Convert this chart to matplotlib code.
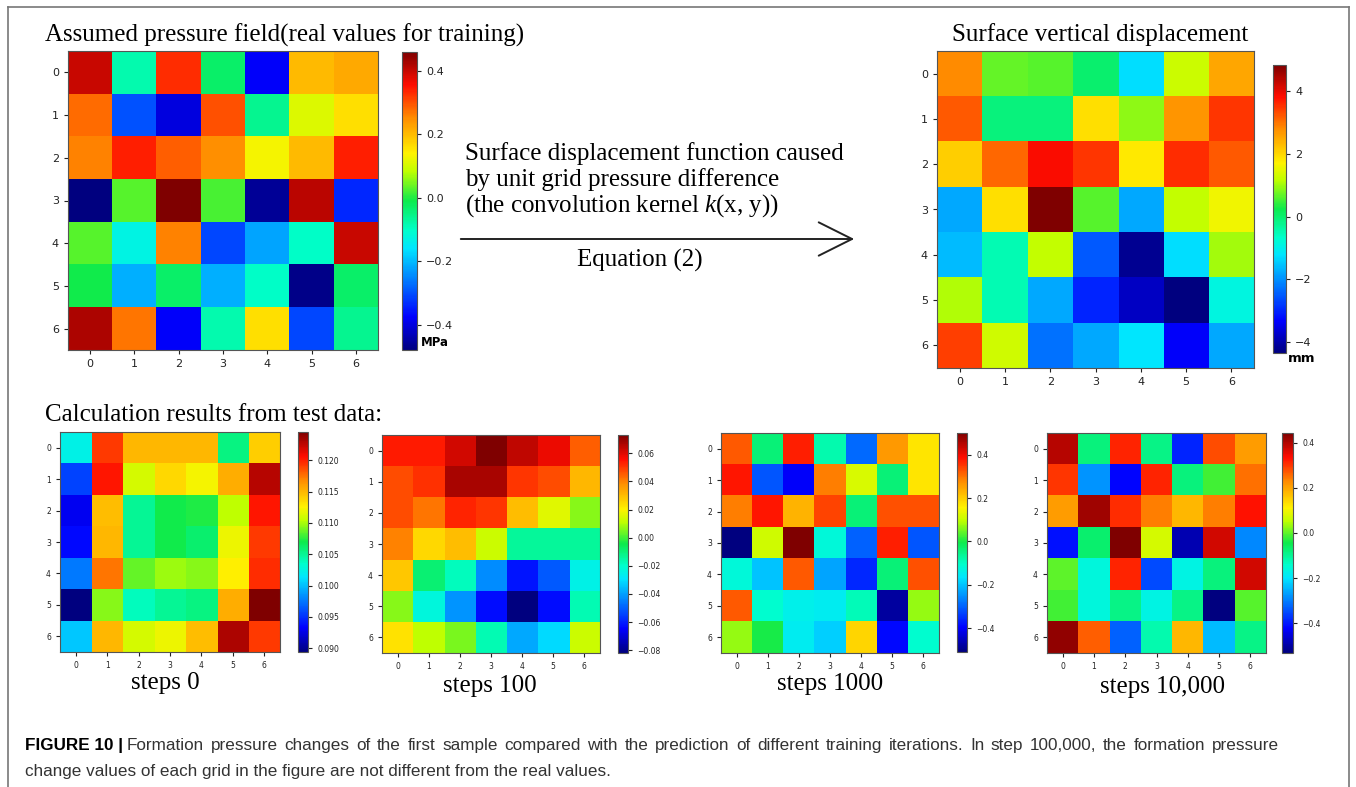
import numpy as np
import matplotlib
matplotlib.use("Agg")
import matplotlib.pyplot as plt
from matplotlib.colors import LinearSegmentedColormap
from matplotlib.lines import Line2D
from matplotlib.patches import FancyArrowPatch

# ---------------------------------------------------
# DATA (7x7 grids)
# ---------------------------------------------------
pressure_real = [
    [0.40, -0.08, 0.33, -0.03, -0.38, 0.20, 0.22],
    [0.28, -0.30, -0.40, 0.30, -0.06, 0.11, 0.16],
    [0.26, 0.34, 0.29, 0.25, 0.13, 0.20, 0.34],
    [-0.48, 0.03, 0.46, 0.02, -0.46, 0.41, -0.34],
    [0.03, -0.13, 0.26, -0.31, -0.22, -0.10, 0.40],
    [-0.01, -0.21, -0.03, -0.21, -0.10, -0.47, -0.03],
    [0.42, 0.27, -0.38, -0.08, 0.16, -0.31, -0.06],
]

displacement = [
    [2.8, 0.7, 0.6, 0.0, -1.3, 1.25, 2.5],
    [3.2, -0.1, -0.1, 1.9, 0.9, 2.7, 3.5],
    [2.1, 3.1, 3.85, 3.5, 1.8, 3.55, 3.2],
    [-1.8, 1.9, 4.83, 0.6, -1.8, 1.2, 1.6],
    [-1.6, -0.5, 1.2, -2.5, -4.2, -1.3, 1.0],
    [1.1, -0.5, -1.8, -3.0, -3.8, -4.35, -0.9],
    [3.4, 1.3, -2.3, -1.8, -1.2, -3.35, -1.8],
]

steps_0 = [
    [0.1024, 0.1192, 0.1150, 0.1150, 0.1150, 0.1055, 0.1140],
    [0.0957, 0.1203, 0.1112, 0.1136, 0.1122, 0.1154, 0.1228],
    [0.0929, 0.1147, 0.1050, 0.1070, 0.1073, 0.1105, 0.1203],
    [0.0936, 0.1150, 0.1050, 0.1070, 0.1060, 0.1119, 0.1192],
    [0.0975, 0.1175, 0.1087, 0.1098, 0.1094, 0.1126, 0.1196],
    [0.0894, 0.1094, 0.1038, 0.1050, 0.1055, 0.1154, 0.1245],
    [0.1003, 0.1150, 0.1112, 0.1119, 0.1147, 0.1230, 0.1192],
]

steps_100 = [
    [0.054, 0.054, 0.062, 0.073, 0.064, 0.058, 0.045],
    [0.047, 0.051, 0.067, 0.067, 0.050, 0.047, 0.031],
    [0.047, 0.042, 0.053, 0.050, 0.030, 0.016, 0.006],
    [0.040, 0.025, 0.030, 0.013, -0.014, -0.014, -0.014],
    [0.028, -0.009, -0.018, -0.043, -0.062, -0.051, -0.025],
    [0.006, -0.023, -0.042, -0.063, -0.082, -0.063, -0.017],
    [0.023, 0.011, 0.005, -0.017, -0.039, -0.031, 0.013],
]

steps_1000 = [
    [0.32, -0.04, 0.37, -0.08, -0.29, 0.26, 0.17],
    [0.38, -0.31, -0.40, 0.29, 0.12, -0.04, 0.17],
    [0.29, 0.38, 0.23, 0.34, -0.04, 0.33, 0.33],
    [-0.51, 0.11, 0.50, -0.12, -0.30, 0.37, -0.31],
    [-0.12, -0.20, 0.32, -0.23, -0.36, -0.04, 0.33],
    [0.32, -0.11, -0.14, -0.15, -0.09, -0.48, 0.07],
    [0.07, 0.00, -0.15, -0.19, 0.19, -0.39, -0.11],
]

steps_10000 = [
    [0.395, -0.08, 0.317, -0.09, -0.39, 0.28, 0.21],
    [0.30, -0.28, -0.42, 0.317, -0.08, -0.015, 0.25],
    [0.21, 0.415, 0.307, 0.24, 0.18, 0.24, 0.33],
    [-0.41, -0.07, 0.444, 0.07, -0.49, 0.375, -0.29],
    [0.00, -0.16, 0.317, -0.35, -0.17, -0.08, 0.375],
    [-0.015, -0.16, -0.09, -0.17, -0.09, -0.533, -0.005],
    [0.425, 0.268, -0.33, -0.12, 0.18, -0.24, -0.09],
]

step_labels = ["steps 0", "steps 100", "steps 1000", "steps 10,000"]
step_grids = [steps_0, steps_100, steps_1000, steps_10000]
step_ticks = [
    [0.090, 0.095, 0.100, 0.105, 0.110, 0.115, 0.120],
    [-0.08, -0.06, -0.04, -0.02, 0.00, 0.02, 0.04, 0.06],
    [-0.4, -0.2, 0.0, 0.2, 0.4],
    [-0.4, -0.2, 0.0, 0.2, 0.4],
]

caption_bold = "FIGURE 10 |"
caption_1 = ("Formation pressure changes of the first sample compared with the prediction "
             "of different training iterations. In step 100,000, the formation pressure")
caption_2 = "change values of each grid in the figure are not different from the real values."

# ---------------------------------------------------
# STYLE
# ---------------------------------------------------
W, H = 1356, 787
serif = "Liberation Serif"
big = 18
plt.rcParams["mathtext.fontset"] = "custom"
plt.rcParams["mathtext.rm"] = serif
plt.rcParams["mathtext.it"] = serif + ":italic"

cmap = LinearSegmentedColormap.from_list("jetlike", [
    (0.00, (0.0, 0.0, 0.5)),
    (0.11, (0.0, 0.0, 1.0)),
    (0.34, (0.0, 0.9, 1.0)),
    (0.40, (0.0, 1.0, 0.8)),
    (0.50, (0.05, 0.92, 0.3)),
    (0.60, (0.75, 1.0, 0.0)),
    (0.66, (1.0, 0.95, 0.0)),
    (0.78, (1.0, 0.55, 0.0)),
    (0.89, (1.0, 0.05, 0.0)),
    (1.00, (0.5, 0.0, 0.0)),
])

fig = plt.figure(figsize=(W / 100, H / 100), dpi=100)


def px_axes(x0, y0, x1, y1):
    return fig.add_axes([x0 / W, 1 - y1 / H, (x1 - x0) / W, (y1 - y0) / H])


def heatmap(grid, box, cbox, ticks, fs):
    ax = px_axes(*box)
    im = ax.imshow(np.array(grid), cmap=cmap, aspect="auto", interpolation="nearest")
    ax.set_xticks(range(7))
    ax.set_yticks(range(7))
    ax.tick_params(labelsize=fs, colors="#222222", length=3)
    for s in ax.spines.values():
        s.set_color("#555555")
    cax = px_axes(*cbox)
    cb = fig.colorbar(im, cax=cax, ticks=ticks)
    cb.ax.tick_params(labelsize=fs, colors="#222222", length=3)
    cb.outline.set_edgecolor("#555555")
    return ax, cb


def ftext(x, y, s, **kw):
    return fig.text(x / W, 1 - y / H, s, **kw)


# ---------------------------------------------------
# TOP ROW
# ---------------------------------------------------
heatmap(pressure_real, (68, 51, 378, 350), (402, 52, 417, 350),
        [-0.4, -0.2, 0.0, 0.2, 0.4], 8)
ftext(421, 346, "MPa", fontsize=8.5, fontweight="bold", va="baseline")
ftext(45, 42, "Assumed pressure field(real values for training)",
      family=serif, fontsize=big, va="baseline")

heatmap(displacement, (937, 51, 1254, 368), (1273, 65, 1286, 353),
        [-4, -2, 0, 2, 4], 8)
ftext(1288, 362, "mm", fontsize=9.5, fontweight="bold", va="baseline")
ftext(1100, 41, "Surface vertical displacement", family=serif,
      fontsize=big, va="baseline", ha="center")

# arrow with text
ftext(465, 160, "Surface displacement function caused", family=serif,
      fontsize=big, va="baseline")
ftext(465, 186, "by unit grid pressure difference", family=serif,
      fontsize=big, va="baseline")
ftext(465, 212, "(the convolution kernel $k$(x, y))", family=serif,
      fontsize=big, va="baseline")
ftext(640, 267, "Equation (2)", family=serif, fontsize=big,
      va="baseline", ha="center")
fig.add_artist(FancyArrowPatch((458 / W, 1 - 239 / H), (857 / W, 1 - 239 / H),
                               transform=fig.transFigure,
                               arrowstyle="->,head_length=1.2,head_width=0.6",
                               mutation_scale=20, lw=1.4, color="#222222"))

# ---------------------------------------------------
# BOTTOM ROW
# ---------------------------------------------------
ftext(45, 421, "Calculation results from test data:", family=serif,
      fontsize=big, va="baseline")

boxes = [(60, 432, 280, 652), (382, 435, 600, 653),
         (721, 433, 939, 653), (1047, 433, 1266, 653)]
cboxes = [(298, 432, 308, 652), (618, 435, 628, 653),
          (957, 433, 967, 652), (1282, 433, 1293, 653)]
label_pos = [(165, 689), (490, 692), (830, 690), (1162, 693)]

for grid, box, cbox, ticks, lab, lp in zip(step_grids, boxes, cboxes,
                                           step_ticks, step_labels, label_pos):
    heatmap(grid, box, cbox, ticks, 5.5)
    ftext(lp[0], lp[1], lab, family=serif, fontsize=big,
          va="baseline", ha="center")

# ---------------------------------------------------
# FRAME + CAPTION
# ---------------------------------------------------
frame_c = "#777777"
fig.add_artist(Line2D([8 / W, 8 / W], [0, 1 - 7 / H], transform=fig.transFigure,
                      color=frame_c, lw=1.2))
fig.add_artist(Line2D([8 / W, 1349 / W], [1 - 7 / H, 1 - 7 / H],
                      transform=fig.transFigure, color=frame_c, lw=1.2))
fig.add_artist(Line2D([1349 / W, 1349 / W], [0, 1 - 7 / H],
                      transform=fig.transFigure, color=frame_c, lw=1.2))

cap_font = "Liberation Sans"
cap_fs = 12.3
renderer = fig.canvas.get_renderer()
t_bold = ftext(25, 750, caption_bold, family=cap_font, fontsize=cap_fs,
               fontweight="bold", va="baseline")
x_start = t_bold.get_window_extent(renderer).x1 + 4

# justified first line (ends at x=1279 px)
words = caption_1.split(" ")
word_txt = [fig.text(0, 1 - 750 / H, w, family=cap_font, fontsize=cap_fs,
                     va="baseline", color="#333333") for w in words]
widths = [t.get_window_extent(renderer).width for t in word_txt]
gap = (1279 - x_start - sum(widths)) / (len(words) - 1)
x = x_start
for t, w in zip(word_txt, widths):
    t.set_x(x / W)
    x += w + gap

ftext(25, 776, caption_2, family=cap_font, fontsize=cap_fs, va="baseline",
      color="#333333")

fig.savefig("out.png", dpi=100)
